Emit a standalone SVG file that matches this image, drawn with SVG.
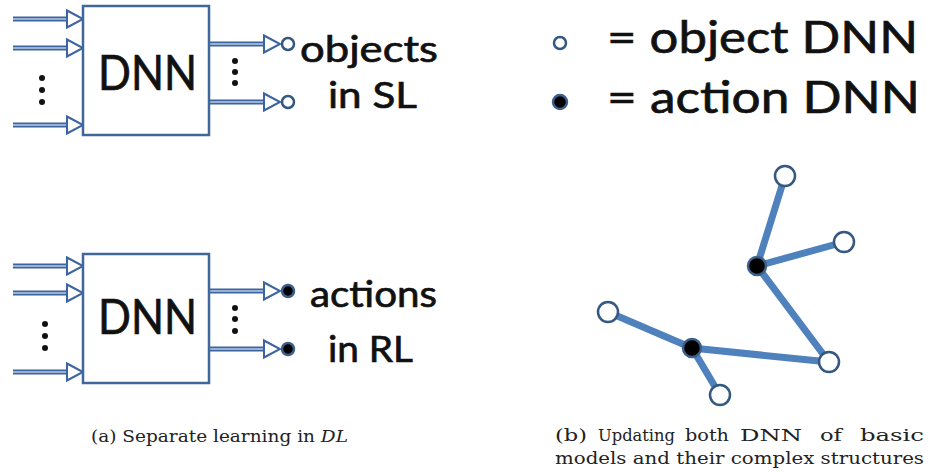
<svg xmlns="http://www.w3.org/2000/svg" xmlns:xlink="http://www.w3.org/1999/xlink" width="930" height="472" viewBox="0 0 930 472">
<style>
.box{fill:#fff;stroke:#41679a;stroke-width:2.5}
.big{font-family:Lato,"Liberation Sans",sans-serif;fill:#111;stroke:#111;stroke-width:0.7}
.cap{font-family:"DejaVu Serif","Liberation Serif",serif;font-size:17px;fill:#222}
.dot{fill:#111}
.edge{stroke:#4f81bd;stroke-width:7;stroke-linecap:round;fill:none}
.open{fill:#fff;stroke:#34587f;stroke-width:2.5}
.act{fill:#000;stroke:#3d5f8a;stroke-width:2.5}
</style>
<defs>
<g id="arr">
<line x1="-70" y1="0" x2="-16" y2="0" stroke="#3c64a0" stroke-width="5"/>
<line x1="-70" y1="0" x2="-16" y2="0" stroke="#b9cce6" stroke-width="1.4"/>
<polygon points="-16,-8.5 0,0 -16,8.5" fill="#fff" stroke="#3c64a0" stroke-width="2"/>
</g>
</defs>

<g id="connectors">
<use xlink:href="#arr" x="83" y="19"/>
<use xlink:href="#arr" x="83" y="48"/>
<use xlink:href="#arr" x="83" y="125"/>
<use xlink:href="#arr" x="280" y="44"/>
<use xlink:href="#arr" x="280" y="102"/>
<use xlink:href="#arr" x="83" y="266"/>
<use xlink:href="#arr" x="83" y="293"/>
<use xlink:href="#arr" x="83" y="372"/>
<use xlink:href="#arr" x="280" y="291"/>
<use xlink:href="#arr" x="280" y="349"/>
<line class="edge" x1="785" y1="176" x2="757" y2="266"/>
<line class="edge" x1="844" y1="242" x2="757" y2="266"/>
<line class="edge" x1="757" y1="266" x2="829" y2="362"/>
<line class="edge" x1="829" y1="362" x2="692" y2="348"/>
<line class="edge" x1="692" y1="348" x2="608" y2="312"/>
<line class="edge" x1="692" y1="348" x2="720" y2="395"/>
</g>

<g id="dnn-sl">
<rect class="box" x="83" y="6" width="126" height="129"/>
<text class="big" x="98" y="90" font-size="48" textLength="99" lengthAdjust="spacingAndGlyphs">DNN</text>
<circle class="dot" cx="42" cy="78" r="3"/><circle class="dot" cx="42" cy="90" r="3"/><circle class="dot" cx="42" cy="102" r="3"/>
<circle class="dot" cx="235" cy="61" r="3"/><circle class="dot" cx="235" cy="72" r="3"/><circle class="dot" cx="235" cy="83" r="3"/>
<circle class="open" cx="288" cy="44" r="6"/>
<circle class="open" cx="288" cy="102" r="6"/>
<text class="big" x="300" y="62" font-size="37" textLength="138" lengthAdjust="spacingAndGlyphs">objects</text>
<text class="big" x="328" y="108" font-size="37" textLength="89" lengthAdjust="spacingAndGlyphs">in SL</text>
</g>

<g id="dnn-rl">
<rect class="box" x="83" y="254" width="126" height="129"/>
<text class="big" x="98" y="334" font-size="48" textLength="99" lengthAdjust="spacingAndGlyphs">DNN</text>
<circle class="dot" cx="45" cy="324" r="3"/><circle class="dot" cx="45" cy="336" r="3"/><circle class="dot" cx="45" cy="348" r="3"/>
<circle class="dot" cx="235" cy="308" r="3"/><circle class="dot" cx="235" cy="319" r="3"/><circle class="dot" cx="235" cy="331" r="3"/>
<circle class="act" cx="288" cy="291" r="6"/>
<circle class="act" cx="288" cy="349" r="6"/>
<text class="big" x="310" y="307" font-size="37" textLength="127" lengthAdjust="spacingAndGlyphs">actions</text>
<text class="big" x="328" y="362" font-size="37" textLength="85" lengthAdjust="spacingAndGlyphs">in RL</text>
</g>

<g id="legend">
<circle class="open" cx="560" cy="43" r="6"/>
<text class="big" x="607" y="53" font-size="44" textLength="311" lengthAdjust="spacingAndGlyphs">= object DNN</text>
<circle class="act" cx="560" cy="102" r="7"/>
<text class="big" x="607" y="113" font-size="44" textLength="313" lengthAdjust="spacingAndGlyphs">= action DNN</text>
</g>

<g id="graph-nodes">
<circle id="n-top" class="open" cx="785" cy="176" r="10"/>
<circle id="n-right" class="open" cx="844" cy="242" r="10"/>
<circle id="n-act1" class="act" cx="757" cy="266" r="9"/>
<circle id="n-left" class="open" cx="608" cy="312" r="10"/>
<circle id="n-act2" class="act" cx="692" cy="348" r="9"/>
<circle id="n-br" class="open" cx="829" cy="362" r="10"/>
<circle id="n-bottom" class="open" cx="720" cy="395" r="10"/>
</g>

<g id="captions">
<text class="cap" x="91" y="442" textLength="257" lengthAdjust="spacingAndGlyphs">(a) Separate learning in <tspan font-style="italic">DL</tspan></text>
<text class="cap" x="555" y="441" textLength="32" lengthAdjust="spacingAndGlyphs">(b)</text>
<text class="cap" x="598" y="441" textLength="77" lengthAdjust="spacingAndGlyphs">Updating</text>
<text class="cap" x="685" y="441" textLength="44" lengthAdjust="spacingAndGlyphs">both</text>
<text class="cap" x="740" y="441" textLength="62" lengthAdjust="spacingAndGlyphs">DNN</text>
<text class="cap" x="820" y="441" textLength="22" lengthAdjust="spacingAndGlyphs">of</text>
<text class="cap" x="860" y="441" textLength="64" lengthAdjust="spacingAndGlyphs">basic</text>
<text class="cap" x="555" y="464" textLength="369" lengthAdjust="spacingAndGlyphs">models and their complex structures</text>
</g>
</svg>
